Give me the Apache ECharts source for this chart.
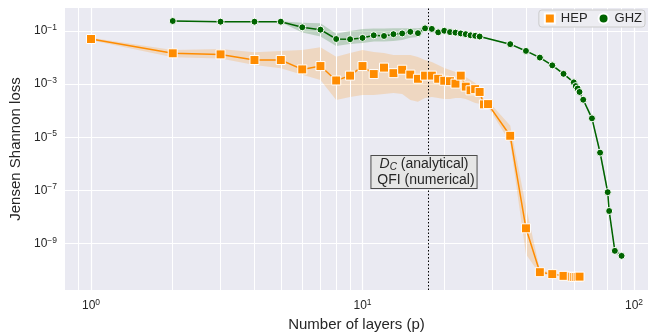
<!DOCTYPE html>
<html><head><meta charset="utf-8">
<script src="https://cdn.jsdelivr.net/npm/echarts@6/dist/echarts.min.js"></script>
<style>html,body{margin:0;padding:0;background:#fff}#c{width:664px;height:333px}</style>
</head><body><div id="c"></div>
<script>
// ---------------- data ----------------
const hepLayers = [1,2,3,4,5,6,7,8,9,10,11,12,13,14,15,16,17,18,19,20,21,22,23,24,25,26,27,28,29,35,40,45,50,55,59,60,61,62,63];
const hepLoss = [5.0e-2,1.45e-2,1.32e-2,8.1e-3,8.1e-3,3.6e-3,4.8e-3,1.38e-3,2.1e-3,4.8e-3,2.4e-3,4.2e-3,2.6e-3,3.5e-3,2.3e-3,1.6e-3,2.1e-3,2.1e-3,1.6e-3,1.35e-3,1.3e-3,1.05e-3,2.1e-3,8.1e-4,5.9e-4,6.5e-4,5.1e-4,1.74e-4,1.78e-4,1.15e-5,3.8e-9,8.5e-11,7.2e-11,6.2e-11,5.8e-11,5.6e-11,5.6e-11,5.6e-11,5.8e-11];
const hepUpper = [5.6e-2,1.95e-2,2.09e-2,1.58e-2,1.78e-2,1.95e-2,2.45e-2,1.07e-2,1.48e-2,1.95e-2,1.62e-2,1.48e-2,1.26e-2,1.26e-2,1.26e-2,1.05e-2,8.13e-3,6.76e-3,5.25e-3,4.07e-3,3.39e-3,2.88e-3,2.4e-3,1.86e-3,1.45e-3,1.12e-3,7.24e-4,2.57e-4,2.34e-4,2.8e-5,2.5e-8,1.05e-10,7.9e-11,6.6e-11,6.2e-11,6.2e-11,6.2e-11,6.2e-11,6.2e-11];
const hepLower = [4.47e-2,1.02e-2,9.33e-3,5.25e-3,3.98e-3,2.24e-3,1.45e-3,2.57e-4,3.31e-4,3.89e-4,3.89e-4,4.27e-4,4.68e-4,4.27e-4,2.57e-4,2.19e-4,3.02e-4,3.31e-4,3.02e-4,2.75e-4,2.75e-4,3.02e-4,3.02e-4,2.75e-4,2.34e-4,1.95e-4,1.82e-4,1.38e-4,1.38e-4,6.3e-6,4.0e-10,7.1e-11,6.6e-11,5.8e-11,5.2e-11,5.2e-11,5.2e-11,5.2e-11,5.2e-11];

const ghzLayers = [2,3,4,5,6,7,8,9,10,11,12,13,14,15,16,17,18,19,20,21,22,23,24,25,26,27,35,40,45,50,55,60,61,62,63,65,70,75,80,81,85,90];
const ghzLoss = [0.238,0.224,0.224,0.224,0.138,0.112,0.050,0.049,0.055,0.069,0.065,0.076,0.081,0.093,0.083,0.126,0.120,0.089,0.102,0.091,0.087,0.081,0.076,0.069,0.066,0.062,0.032,0.0178,0.0100,5.1e-3,2.45e-3,1.17e-3,8.5e-4,6.9e-4,5.1e-4,2.6e-4,5.2e-5,2.66e-6,8.7e-8,1.7e-8,5.4e-10,3.5e-10];
const ghzUpper = [0.25,0.235,0.235,0.235,0.204,0.195,0.078,0.10,0.12,0.123,0.125,0.126,0.126,0.126,0.126,0.141,0.135,0.095,0.109,0.097,0.093,0.087,0.081,0.074,0.071,0.066,0.034,0.019,0.0107,5.5e-3,2.6e-3,1.25e-3,9.1e-4,7.4e-4,5.5e-4,2.9e-4,6.5e-5,3.6e-6,1.3e-7,2.6e-8,7e-10,4e-10];
const ghzLower = [0.227,0.214,0.214,0.214,0.087,0.0617,0.0275,0.0324,0.0355,0.040,0.040,0.042,0.046,0.056,0.060,0.105,0.100,0.083,0.095,0.085,0.081,0.076,0.071,0.064,0.062,0.058,0.030,0.0166,0.0093,4.8e-3,2.3e-3,1.09e-3,7.9e-4,6.4e-4,4.8e-4,2.3e-4,4.2e-5,2.0e-6,6e-8,1.1e-8,4.2e-10,3.1e-10];

const dcLayer = 17.5;                       // D_C (analytical) / QFI (numerical)
const yTickValues = [1e-9,1e-7,1e-5,1e-3,1e-1];
const xTickValues = [1,10,100];
const xMinorGrid = [0.9,2,3,4,5,6,7,8,9,20,30,40,50,60,70,80,90];
const seriesNames = ['HEP','GHZ'];
// ---------------------------------------------------------------

const FONT = "'Liberation Sans', Arial, sans-serif";
const TXT = '#262626';
const chart = echarts.init(document.getElementById('c'), null, {renderer: 'canvas'});

function supLabel(v) {
  const e = Math.round(Math.log10(v));
  return '{b|10}{s|' + String(e).replace('-', '\u2212') + '}';
}
const labelRich = {
  b: {fontSize: 12, color: TXT, fontFamily: FONT},
  s: {fontSize: 8.5, color: TXT, fontFamily: FONT, verticalAlign: 'top', padding: [0, 0, 7, 0]}
};

function bandSeries(xs, up, lo, color) {
  return {
    type: 'custom', silent: true, z: 2, clip: true,
    data: [[xs[0], up[0]]],
    renderItem: function (params, api) {
      const pts = [];
      for (let i = 0; i < xs.length; i++) pts.push(api.coord([xs[i], up[i]]));
      for (let i = xs.length - 1; i >= 0; i--) pts.push(api.coord([xs[i], lo[i]]));
      return {type: 'polygon', shape: {points: pts}, style: {fill: color, stroke: null}};
    }
  };
}

const option = {
  animation: false,
  backgroundColor: '#ffffff',
  textStyle: {fontFamily: FONT},
  grid: {left: 65, right: 16, top: 8, bottom: 43, show: true, backgroundColor: '#eaeaf2', borderWidth: 0,
    containLabel: false, outerBoundsMode: 'none'},
  legend: {
    right: 19, top: 10, orient: 'horizontal', z: 20,
    backgroundColor: 'rgba(236,236,242,0.97)', borderColor: '#cccccc', borderWidth: 1, borderRadius: 3,
    padding: [2, 3, 2, 5], itemGap: 10, itemWidth: 10, itemHeight: 10,
    textStyle: {fontSize: 13, color: TXT, fontFamily: FONT, padding: [0, 0, 0, 1]},
    data: [{name: seriesNames[0], icon: 'rect'}, {name: seriesNames[1], icon: 'circle'}]
  },
  xAxis: {
    type: 'log', logBase: 10, min: 0.802, max: 112.6,
    name: 'Number of layers (p)', nameLocation: 'middle', nameGap: 25,
    nameTextStyle: {fontSize: 15, color: TXT, fontFamily: FONT},
    axisLine: {show: false},
    axisTick: {show: false, customValues: xTickValues},
    axisLabel: {formatter: supLabel, rich: labelRich, margin: 8, customValues: xTickValues,
      showMinLabel: true, showMaxLabel: true},
    splitLine: {show: true, lineStyle: {color: '#ffffff', width: 1.2}}
  },
  yAxis: {
    type: 'log', logBase: 10, min: 1.82e-11, max: 0.733,
    name: 'Jensen Shannon loss', nameLocation: 'middle', nameGap: 38,
    nameTextStyle: {fontSize: 15, color: TXT, fontFamily: FONT},
    axisLine: {show: false},
    axisTick: {show: false, customValues: yTickValues},
    axisLabel: {formatter: supLabel, rich: labelRich, margin: 8, customValues: yTickValues},
    splitLine: {show: true, lineStyle: {color: '#ffffff', width: 1.2}}
  },
  graphic: [{
    type: 'text', x: 424, y: 172, z: 100,
    style: {
      text: '{it|D}{sub|C} (analytical)\n QFI (numerical)',
      rich: {
        it: {fontStyle: 'italic', fontSize: 14, fontFamily: FONT, fill: TXT, lineHeight: 16},
        sub: {fontStyle: 'italic', fontSize: 10, fontFamily: FONT, fill: TXT, verticalAlign: 'bottom', lineHeight: 10}
      },
      fontSize: 14, fontFamily: FONT, fill: TXT,
      align: 'center', verticalAlign: 'middle', lineHeight: 16,
      backgroundColor: '#e6e6e6', borderColor: '#4d4d4d', borderWidth: 1, padding: [0, 2, 0, 2]
    }
  }],
  series: [
    { // minor x grid lines (ticks at 2..9 of each decade)
      type: 'line', data: [], z: 1, silent: true,
      markLine: {symbol: 'none', silent: true, label: {show: false},
        lineStyle: {color: '#ffffff', width: 1, type: 'solid'},
        data: xMinorGrid.map(v => ({xAxis: v}))}
    },
    bandSeries(hepLayers, hepUpper, hepLower, 'rgba(255,140,0,0.2)'),
    bandSeries(ghzLayers, ghzUpper, ghzLower, 'rgba(0,100,0,0.2)'),
    { // vertical dotted line
      type: 'line', data: [], z: 3, silent: true,
      markLine: {symbol: 'none', silent: true, label: {show: false},
        lineStyle: {color: '#000000', width: 1, type: [1.5, 2]},
        data: [{xAxis: dcLayer}]}
    },
    {
      name: seriesNames[0], type: 'line', z: 5,
      data: hepLayers.map((p, i) => [p, hepLoss[i]]),
      symbol: 'rect', symbolSize: 9,
      lineStyle: {color: '#ff8c00', width: 1.5},
      itemStyle: {color: '#ff8c00', borderColor: '#ffffff', borderWidth: 1}
    },
    {
      name: seriesNames[1], type: 'line', z: 6,
      data: ghzLayers.map((p, i) => [p, ghzLoss[i]]),
      symbol: 'circle', symbolSize: 7,
      lineStyle: {color: '#006400', width: 1.5},
      itemStyle: {color: '#006400', borderColor: '#ffffff', borderWidth: 1}
    }
  ]
};
chart.setOption(option);
</script>
</body></html>
